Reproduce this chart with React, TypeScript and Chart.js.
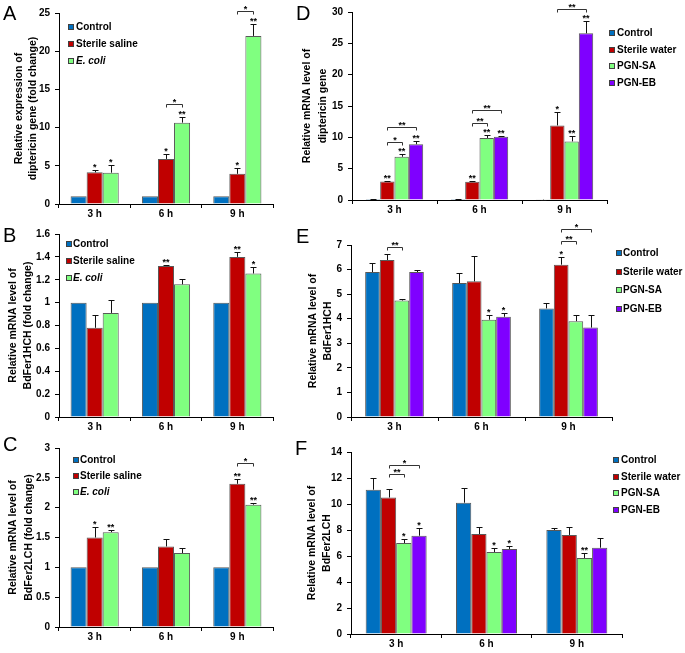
import React, { useEffect, useRef } from "react";
import { Chart, registerables } from "chart.js";
Chart.register(...registerables);

const FONT = "'Liberation Sans', Arial, Helvetica, sans-serif";
Chart.defaults.font.family = FONT;

const categories = ["3 h", "6 h", "9 h"];
const groupsABC = ["Control", "Sterile saline", "E. coli"];
const groupsDEF = ["Control", "Sterile water", "PGN-SA", "PGN-EB"];
const colorsABC = ["#0070C0", "#C00000", "#80FF80"];
const colorsDEF = ["#0070C0", "#C00000", "#80FF80", "#7F00FF"];
const italicLabels = ["E. coli"];

// Panel A – diptericin (fold change)
const aControl = [1, 1, 1];
const aSaline = [4.15, 5.9, 3.95];
const aEcoli = [4.1, 10.65, 22.0];
const aControlErr = [0, 0, 0];
const aSalineErr = [0.3, 0.6, 0.7];
const aEcoliErr = [1.05, 0.8, 1.6];
const aStars = [["", "", ""], ["*", "*", "*"], ["*", "**", "**"]];
const aBrackets = [
  { cat: 1, from: 1, to: 2, y: 13.1, label: "*" },
  { cat: 2, from: 1, to: 2, y: 25.3, label: "*" },
];

// Panel B – BdFer1HCH (fold change)
const bControl = [1, 1, 1];
const bSaline = [0.78, 1.32, 1.4];
const bEcoli = [0.91, 1.16, 1.255];
const bControlErr = [0, 0, 0];
const bSalineErr = [0.11, 0.01, 0.045];
const bEcoliErr = [0.11, 0.045, 0.06];
const bStars = [["", "", ""], ["", "**", "**"], ["", "", "*"]];
const bBrackets: any[] = [];

// Panel C – BdFer2LCH (fold change)
const cControl = [1, 1, 1];
const cSaline = [1.5, 1.35, 2.4];
const cEcoli = [1.59, 1.24, 2.05];
const cControlErr = [0, 0, 0];
const cSalineErr = [0.18, 0.13, 0.08];
const cEcoliErr = [0.03, 0.09, 0.02];
const cStars = [["", "", ""], ["*", "", "**"], ["**", "", "**"]];
const cBrackets = [{ cat: 2, from: 1, to: 2, y: 2.75, label: "*" }];

// Panel D – diptericin
const dControl = [0.15, 0.15, 0.05];
const dWater = [2.95, 2.9, 11.9];
const dSA = [6.9, 9.9, 9.35];
const dEB = [8.9, 10.1, 26.6];
const dControlErr = [0.05, 0.05, 0.02];
const dWaterErr = [0.08, 0.1, 2.1];
const dSAErr = [0.5, 0.45, 0.9];
const dEBErr = [0.45, 0.15, 1.9];
const dStars = [["", "", ""], ["**", "**", "*"], ["**", "**", "**"], ["**", "**", "**"]];
const dBrackets = [
  { cat: 0, from: 1, to: 2, y: 9.2, label: "*" },
  { cat: 0, from: 1, to: 3, y: 11.7, label: "**" },
  { cat: 1, from: 1, to: 2, y: 12.25, label: "**" },
  { cat: 1, from: 1, to: 3, y: 14.4, label: "**" },
  { cat: 2, from: 1, to: 3, y: 30.5, label: "**" },
];

// Panel E – BdFer1HCH
const eControl = [5.9, 5.45, 4.42];
const eWater = [6.39, 5.52, 6.2];
const eSA = [4.74, 3.96, 3.9];
const eEB = [5.9, 4.08, 3.64];
const eControlErr = [0.37, 0.41, 0.21];
const eWaterErr = [0.23, 1.02, 0.32];
const eSAErr = [0.06, 0.19, 0.27];
const eEBErr = [0.09, 0.16, 0.53];
const eStars = [["", "", ""], ["", "", "*"], ["", "*", ""], ["", "*", ""]];
const eBrackets = [
  { cat: 0, from: 1, to: 2, y: 6.9, label: "**" },
  { cat: 2, from: 1, to: 2, y: 7.16, label: "**" },
  { cat: 2, from: 1, to: 3, y: 7.64, label: "*" },
];

// Panel F – BdFer2LCH
const fControl = [11.1, 10.1, 8.0];
const fWater = [10.5, 7.69, 7.62];
const fSA = [7.0, 6.31, 5.85];
const fEB = [7.56, 6.54, 6.64];
const fControlErr = [0.87, 1.16, 0.15];
const fWaterErr = [0.62, 0.54, 0.61];
const fSAErr = [0.33, 0.33, 0.41];
const fEBErr = [0.59, 0.2, 0.74];
const fStars = [["", "", ""], ["", "", ""], ["*", "*", "**"], ["*", "*", ""]];
const fBrackets = [
  { cat: 0, from: 1, to: 2, y: 12.3, label: "**" },
  { cat: 0, from: 1, to: 3, y: 13.0, label: "*" },
];

const titleA = ["Relative expression of", "diptericin gene (fold change)"];
const titleB = ["Relative mRNA level of", "BdFer1HCH (fold change)"];
const titleC = ["Relative mRNA level of", "BdFer2LCH (fold change)"];
const titleD = ["Relative mRNA level of", "diptericin gene"];
const titleE = ["Relative mRNA level of", "BdFer1HCH"];
const titleF = ["Relative mRNA level of", "BdFer2LCH"];

type Panel = any;

const panels: Panel[] = [
  {
    id: "A", left: 0, top: 0, w: 290, h: 222, yW: 59, padR: 17, padT: 13, xH: 18,
    max: 25, step: 5, series: groupsABC, colors: colorsABC,
    values: [aControl, aSaline, aEcoli], errors: [aControlErr, aSalineErr, aEcoliErr],
    stars: aStars, brackets: aBrackets, title: titleA, titleX: [19, 33.5],
    letter: { x: 3, y: 19.5 }, legend: { x: 68, y: 27, dy: 17, tx: 76 },
  },
  {
    id: "B", left: 0, top: 220, w: 290, h: 212, yW: 59, padR: 17, padT: 14, xH: 15,
    max: 1.6, step: 0.2, series: groupsABC, colors: colorsABC,
    values: [bControl, bSaline, bEcoli], errors: [bControlErr, bSalineErr, bEcoliErr],
    stars: bStars, brackets: bBrackets, title: titleB, titleX: [13.5, 28.5],
    letter: { x: 3, y: 242 }, legend: { x: 66, y: 244, dy: 17, tx: 73 },
  },
  {
    id: "C", left: 0, top: 430, w: 290, h: 223, yW: 59, padR: 17, padT: 18, xH: 26,
    max: 3, step: 0.5, series: groupsABC, colors: colorsABC,
    values: [cControl, cSaline, cEcoli], errors: [cControlErr, cSalineErr, cEcoliErr],
    stars: cStars, brackets: cBrackets, title: titleC, titleX: [13.5, 29],
    letter: { x: 3, y: 451 }, legend: { x: 73, y: 460, dy: 16, tx: 80 },
  },
  {
    id: "D", left: 290, top: 0, w: 395, h: 222, yW: 62, padR: 78, padT: 12, xH: 22,
    max: 30, step: 5, series: groupsDEF, colors: colorsDEF,
    values: [dControl, dWater, dSA, dEB], errors: [dControlErr, dWaterErr, dSAErr, dEBErr],
    stars: dStars, brackets: dBrackets, title: titleD, titleX: [307, 323],
    letter: { x: 296, y: 19.5 }, legend: { x: 609, y: 33, dy: 16.5, tx: 617 },
  },
  {
    id: "E", left: 290, top: 220, w: 395, h: 212, yW: 61, padR: 73, padT: 25, xH: 15,
    max: 7, step: 1, series: groupsDEF, colors: colorsDEF,
    values: [eControl, eWater, eSA, eEB], errors: [eControlErr, eWaterErr, eSAErr, eEBErr],
    stars: eStars, brackets: eBrackets, title: titleE, titleX: [313, 328],
    letter: { x: 296, y: 243 }, legend: { x: 616, y: 253, dy: 18.5, tx: 623 },
  },
  {
    id: "F", left: 290, top: 430, w: 395, h: 223, yW: 61, padR: 63, padT: 22, xH: 19,
    max: 14, step: 2, series: groupsDEF, colors: colorsDEF,
    values: [fControl, fWater, fSA, fEB], errors: [fControlErr, fWaterErr, fSAErr, fEBErr],
    stars: fStars, brackets: fBrackets, title: titleF, titleX: [312, 327],
    letter: { x: 295, y: 455 }, legend: { x: 613, y: 460, dy: 16.5, tx: 621 },
  },
];

function decorPlugin(p: Panel) {
  return {
    id: "decor" + p.id,
    afterDraw(chart: any) {
      const ctx: CanvasRenderingContext2D = chart.ctx;
      const ys = chart.scales.y;
      const area = chart.chartArea;
      const ox = p.left;
      const oy = p.top;
      ctx.save();
      ctx.fillStyle = "#000";
      ctx.strokeStyle = "#000";
      ctx.lineWidth = 1;
      // error bars + stars
      chart.data.datasets.forEach((ds: any, i: number) => {
        const meta = chart.getDatasetMeta(i);
        meta.data.forEach((bar: any, j: number) => {
          const v = ds.data[j];
          const e = p.errors[i][j];
          const x = Math.round(bar.x) + 0.5;
          const y0 = ys.getPixelForValue(v);
          const y1 = Math.round(ys.getPixelForValue(v + e)) + 0.5;
          if (e > 0) {
            ctx.strokeStyle = "#111";
            ctx.beginPath();
            ctx.moveTo(x, y0);
            ctx.lineTo(x, y1);
            ctx.moveTo(x - 3, y1);
            ctx.lineTo(x + 3, y1);
            ctx.stroke();
          }
          const s = p.stars[i][j];
          if (s) {
            ctx.font = `bold 9px ${FONT}`;
            ctx.textAlign = "center";
            ctx.textBaseline = "alphabetic";
            ctx.fillStyle = "#000";
            ctx.fillText(s, bar.x, y1 - 0.5);
          }
        });
      });
      // significance brackets
      p.brackets.forEach((br: any) => {
        const x1 = Math.round(chart.getDatasetMeta(br.from).data[br.cat].x) + 0.5;
        const x2 = Math.round(chart.getDatasetMeta(br.to).data[br.cat].x) + 0.5;
        const yb = Math.round(ys.getPixelForValue(br.y)) + 0.5;
        ctx.strokeStyle = "#333";
        ctx.beginPath();
        ctx.moveTo(x1, yb + 3);
        ctx.lineTo(x1, yb);
        ctx.lineTo(x2, yb);
        ctx.lineTo(x2, yb + 3);
        ctx.stroke();
        ctx.font = `bold 9px ${FONT}`;
        ctx.textAlign = "center";
        ctx.textBaseline = "alphabetic";
        ctx.fillStyle = "#000";
        ctx.fillText(br.label, (x1 + x2) / 2, yb + 0.5);
      });
      // legend
      p.series.forEach((name: string, i: number) => {
        const ry = p.legend.y - oy + i * p.legend.dy;
        const sx = p.legend.x - ox;
        ctx.fillStyle = p.colors[i];
        ctx.fillRect(sx, Math.round(ry - 3), 6, 6);
        ctx.strokeStyle = "#404040";
        ctx.strokeRect(sx + 0.5, Math.round(ry - 3) + 0.5, 5, 5);
        ctx.fillStyle = "#000";
        const it = italicLabels.includes(name) ? "italic " : "";
        ctx.font = `${it}bold 10px ${FONT}`;
        ctx.textAlign = "left";
        ctx.textBaseline = "middle";
        ctx.fillText(name, p.legend.tx - ox, ry + 0.5);
      });
      // y title
      const cy = (area.top + area.bottom) / 2;
      ctx.font = `bold 10.5px ${FONT}`;
      ctx.textAlign = "center";
      ctx.textBaseline = "middle";
      ctx.fillStyle = "#000";
      p.title.forEach((line: string, k: number) => {
        ctx.save();
        ctx.translate(p.titleX[k] - ox, cy);
        ctx.rotate(-Math.PI / 2);
        ctx.fillText(line, 0, 0);
        ctx.restore();
      });
      // panel letter
      ctx.font = `20px ${FONT}`;
      ctx.textAlign = "left";
      ctx.textBaseline = "alphabetic";
      ctx.fillText(p.id, p.letter.x - ox, p.letter.y - oy);
      ctx.restore();
    },
  };
}

function PanelChart({ p }: { p: Panel }) {
  const ref = useRef<HTMLCanvasElement | null>(null);
  useEffect(() => {
    if (!ref.current) return;
    const chart = new Chart(ref.current, {
      type: "bar",
      data: {
        labels: categories,
        datasets: p.series.map((name: string, i: number) => ({
          label: name,
          data: p.values[i],
          backgroundColor: p.colors[i],
          borderColor: "rgba(60,60,60,0.85)",
          borderWidth: 1,
          categoryPercentage: 0.675,
          barPercentage: 1,
        })),
      },
      options: {
        responsive: false,
        animation: false,
        events: [],
        layout: { padding: { left: 0, right: p.padR, top: p.padT, bottom: 0 } },
        plugins: { legend: { display: false }, tooltip: { enabled: false } },
        scales: {
          x: {
            type: "category",
            offset: true,
            grid: { display: true, drawOnChartArea: false, drawTicks: true, tickLength: 4, color: "#000", offset: true },
            border: { display: true, color: "#000", width: 1 },
            ticks: { color: "#000", font: { size: 10, weight: "bold" }, padding: 0, maxRotation: 0, autoSkip: false },
            afterFit: (s: any) => { s.height = p.xH; },
          },
          y: {
            min: 0,
            max: p.max,
            grid: { display: true, drawOnChartArea: false, drawTicks: true, tickLength: 4, color: "#000" },
            border: { display: true, color: "#000", width: 1 },
            ticks: {
              stepSize: p.step,
              color: "#000",
              font: { size: 10, weight: "bold" },
              padding: 5,
              callback: (v: any) => String(parseFloat(Number(v).toFixed(3))),
            },
            afterFit: (s: any) => { s.width = p.yW; },
          },
        },
      },
      plugins: [decorPlugin(p)],
    } as any);
    return () => chart.destroy();
  }, []);
  return (
    <canvas
      ref={ref}
      width={p.w}
      height={p.h}
      style={{ position: "absolute", left: p.left, top: p.top, width: p.w, height: p.h, display: "block" }}
    />
  );
}

export default function App() {
  return (
    <div style={{ position: "absolute", left: 0, top: 0, width: 685, height: 653, background: "#fff", overflow: "hidden" }}>
      {panels.map((p) => (
        <PanelChart key={p.id} p={p} />
      ))}
    </div>
  );
}
